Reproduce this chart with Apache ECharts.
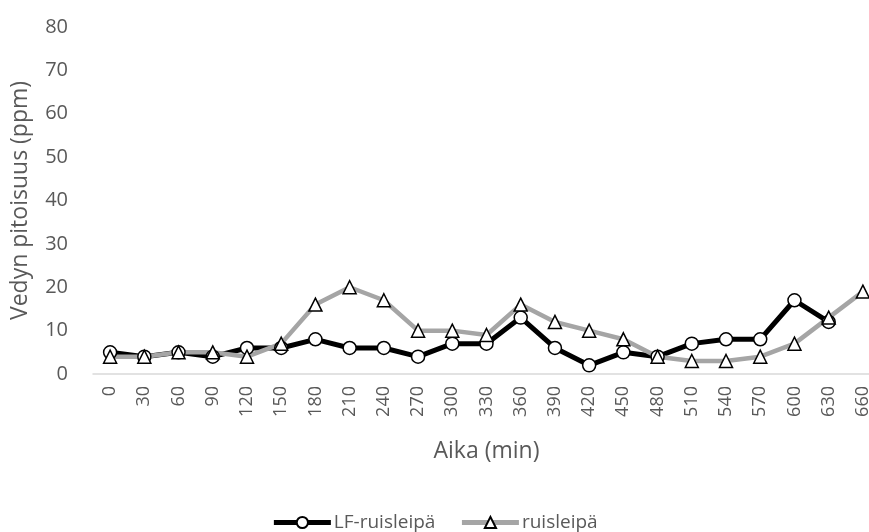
<!DOCTYPE html>
<html>
<head>
<meta charset="utf-8">
<script src="https://cdn.jsdelivr.net/npm/echarts@6/dist/echarts.min.js"></script>
<style>
  html, body { margin: 0; padding: 0; background: #fff; }
  #chart { width: 869px; height: 532px; }
</style>
</head>
<body>
<div id="chart"></div>
<script>
// Sampling times (min)
const times = ['0','30','60','90','120','150','180','210','240','270','300','330','360','390','420','450','480','510','540','570','600','630','660'];
// Hydrogen concentration (ppm)
const lfRye = [5,4,5,4,6,6,8,6,6,4,7,7,13,6,2,5,4,7,8,8,17,12];
const rye   = [4,4,5,5,4,7,16,20,17,10,10,9,16,12,10,8,4,3,3,4,7,13,19];
const yTicks = { min: 0, max: 80, interval: 10 };

const textColor = '#595959';
const font = 'Open Sans';

const chart = echarts.init(document.getElementById('chart'), null, { renderer: 'canvas' });
chart.setOption({
  animation: false,
  backgroundColor: '#ffffff',
  textStyle: { fontFamily: font, color: textColor },
  grid: { left: 93, right: -11, top: 27, bottom: 158, containLabel: false, outerBoundsMode: 'none' },
  legend: {
    left: 'center',
    top: 508,
    itemWidth: 57,
    itemHeight: 14,
    itemGap: 24,
    lineStyle: { width: 5 },
    textStyle: { fontFamily: font, fontSize: 19, color: textColor, padding: [0, 0, 0, -2] },
    data: ['LF-ruisleipä', 'ruisleipä']
  },
  xAxis: {
    type: 'category',
    data: times,
    boundaryGap: true,
    name: 'Aika (min)',
    nameLocation: 'middle',
    nameGap: 66,
    nameTextStyle: { fontFamily: font, fontSize: 23, color: textColor },
    axisLine: { show: true, lineStyle: { color: '#D9D9D9', width: 1.5 } },
    axisTick: { show: false },
    axisLabel: { rotate: 90, margin: 12, fontFamily: font, fontSize: 18, color: textColor, interval: 0 },
    splitLine: { show: false }
  },
  yAxis: {
    type: 'value',
    min: yTicks.min,
    max: yTicks.max,
    interval: yTicks.interval,
    name: 'Vedyn pitoisuus (ppm)',
    nameLocation: 'middle',
    nameGap: 61,
    nameTextStyle: { fontFamily: font, fontSize: 23, color: textColor },
    axisLine: { show: false },
    axisTick: { show: false },
    axisLabel: { margin: 25, fontFamily: font, fontSize: 20, color: textColor },
    splitLine: { show: false }
  },
  series: [
    {
      name: 'LF-ruisleipä',
      type: 'line',
      data: lfRye,
      symbol: 'circle',
      symbolSize: 13,
      showAllSymbol: true,
      lineStyle: { color: '#000000', width: 5 },
      itemStyle: { color: '#ffffff', borderColor: '#000000', borderWidth: 1.5 },
      emphasis: { disabled: true }
    },
    {
      name: 'ruisleipä',
      type: 'line',
      data: rye,
      symbol: 'triangle',
      symbolSize: 13,
      showAllSymbol: true,
      lineStyle: { color: '#A5A5A5', width: 4.5 },
      itemStyle: { color: '#ffffff', borderColor: '#000000', borderWidth: 1.5 },
      emphasis: { disabled: true }
    }
  ]
});
</script>
</body>
</html>
